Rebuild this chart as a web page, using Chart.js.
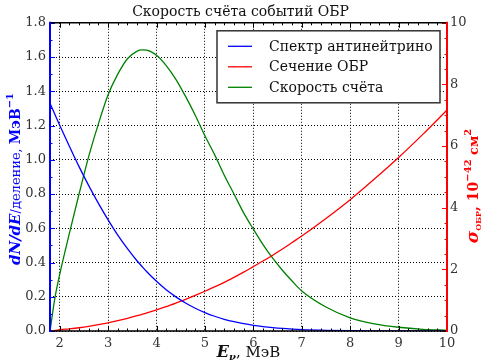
<!DOCTYPE html>
<html>
<head>
<meta charset="utf-8">
<script src="https://cdn.jsdelivr.net/npm/chart.js@4.4.1/dist/chart.umd.min.js"></script>
<style>
  html, body { margin: 0; padding: 0; background: #fff; }
  #wrap { width: 481px; height: 361px; }
</style>
</head>
<body>
<div id="wrap"><canvas id="c" width="481" height="361"></canvas></div>
<script>
// энергия нейтрино, МэВ
const energy = [1.8, 1.9, 2.0, 2.2, 2.4, 2.6, 2.8, 3.0, 3.2, 3.4, 3.6, 3.7, 3.8, 4.0, 4.2, 4.4, 4.6, 4.8,
  5.0, 5.2, 5.4, 5.6, 5.8, 6.0, 6.2, 6.4, 6.6, 6.8, 7.0, 7.5, 8.0, 8.5, 9.0, 9.5, 10.0];
// спектр антинейтрино, dN/dE
const spectrum = [1.33, 1.266, 1.202, 1.079, 0.960, 0.849, 0.745, 0.649, 0.560, 0.481, 0.409, 0.377, 0.346, 0.290, 0.241, 0.1995, 0.1636, 0.1331,
  0.1076, 0.0862, 0.0686, 0.0542, 0.0425, 0.033, 0.0256, 0.0196, 0.0149, 0.0113, 0.0084, 0.0042, 0.002, 0.0009, 0.0004, 0.0002, 0.0001];
// сечение ОБР, 1e-42 см2
const crossSection = [0.0, 0.015, 0.04, 0.07, 0.105, 0.15, 0.205, 0.265, 0.335, 0.41, 0.495, 0.54, 0.585, 0.685, 0.79, 0.905, 1.025, 1.155,
  1.29, 1.43, 1.58, 1.74, 1.91, 2.09, 2.27, 2.46, 2.66, 2.87, 3.08, 3.65, 4.26, 4.93, 5.63, 6.38, 7.17];
// скорость счёта
const countRate = [0.0, 0.19, 0.33, 0.57, 0.80, 1.02, 1.21, 1.38, 1.50, 1.59, 1.635, 1.642, 1.64, 1.61, 1.55, 1.47, 1.37, 1.26,
  1.14, 1.03, 0.91, 0.80, 0.69, 0.595, 0.505, 0.425, 0.355, 0.292, 0.234, 0.14, 0.077, 0.042, 0.022, 0.010, 0.004];

const xTickValues = [2, 3, 4, 5, 6, 7, 8, 9, 10];
const leftTickValues = [0, 0.2, 0.4, 0.6, 0.8, 1.0, 1.2, 1.4, 1.6, 1.8];
const rightTickValues = [0, 2, 4, 6, 8, 10];
const seriesLabels = ["Спектр антинейтрино", "Сечение ОБР", "Скорость счёта"];

var SERIF = "'DejaVu Serif', 'Liberation Serif', serif";
var BLUE = "#0000ff", RED = "#ff0000", GREEN = "#008000";

function pts(ys) { return energy.map(function (e, i) { return { x: e, y: ys[i] }; }); }
function fixTicks(vals) { return function (s) { s.ticks = vals.map(function (v) { return { value: v }; }); }; }

// текст из кусков разного шрифта (для подписей осей)
function drawRuns(ctx, runs, cx, cy, rot) {
  ctx.save();
  ctx.translate(cx, cy);
  ctx.rotate(rot);
  var w = 0;
  runs.forEach(function (r) { ctx.font = r.font; r.w = ctx.measureText(r.text).width; w += r.w; });
  var x = -w / 2;
  ctx.textBaseline = "alphabetic";
  ctx.textAlign = "left";
  runs.forEach(function (r) {
    ctx.font = r.font;
    ctx.fillStyle = r.color;
    ctx.fillText(r.text, x, r.dy || 0);
    x += r.w;
  });
  ctx.restore();
}

var decor = {
  id: "decor",
  afterDatasetsDraw: function (chart) {
    var ctx = chart.ctx, a = chart.chartArea;
    var sx = chart.scales.x, sl = chart.scales.y, sr = chart.scales.y2;
    ctx.save();
    // засечки внутрь
    function tick(color, x1, y1, x2, y2) {
      ctx.strokeStyle = color; ctx.lineWidth = 1;
      ctx.beginPath(); ctx.moveTo(x1, y1); ctx.lineTo(x2, y2); ctx.stroke();
    }
    var v, p, big;
    for (v = 1.8; v <= 10.001; v += 0.2) {
      p = Math.round(sx.getPixelForValue(v)) + 0.5;
      big = Math.abs(v - Math.round(v)) < 0.01;
      var L = big ? 5 : 2.5;
      tick("#000", p, a.bottom, p, a.bottom - L);
      tick("#000", p, a.top, p, a.top + L);
    }
    for (v = 0; v <= 1.801; v += 0.1) {
      p = Math.round(sl.getPixelForValue(v)) + 0.5;
      big = Math.abs(v * 5 - Math.round(v * 5)) < 0.01;
      tick(BLUE, a.left, p, a.left + (big ? 5 : 2.5), p);
    }
    for (v = 0; v <= 10.001; v += 0.5) {
      p = Math.round(sr.getPixelForValue(v)) + 0.5;
      big = Math.abs(v / 2 - Math.round(v / 2)) < 0.01;
      tick(RED, a.right, p, a.right - (big ? 5 : 2.5), p);
    }
    // рамка
    ctx.lineWidth = 1.5;
    ctx.strokeStyle = "#000";
    ctx.beginPath(); ctx.moveTo(a.left, a.top); ctx.lineTo(a.right, a.top);
    ctx.moveTo(a.left, a.bottom); ctx.lineTo(a.right, a.bottom); ctx.stroke();
    ctx.lineWidth = 2;
    ctx.strokeStyle = BLUE;
    ctx.beginPath(); ctx.moveTo(a.left, a.top - 1); ctx.lineTo(a.left, a.bottom + 1); ctx.stroke();
    ctx.strokeStyle = RED;
    ctx.beginPath(); ctx.moveTo(a.right, a.top - 1); ctx.lineTo(a.right, a.bottom + 1); ctx.stroke();

    // легенда
    var lx = a.right - 230, ly = a.top + 8, lw = 223, lh = 72;
    ctx.fillStyle = "#fff";
    ctx.fillRect(lx, ly, lw, lh);
    ctx.lineWidth = 1.5; ctx.strokeStyle = "#333";
    ctx.strokeRect(lx, ly, lw, lh);
    ctx.font = "14px " + SERIF;
    ctx.textBaseline = "middle";
    chart.data.datasets.forEach(function (ds, i) {
      var y = ly + 15.5 + i * 20.5;
      ctx.strokeStyle = ds.borderColor; ctx.lineWidth = 1.3;
      ctx.beginPath(); ctx.moveTo(lx + 11, y); ctx.lineTo(lx + 35, y); ctx.stroke();
      ctx.fillStyle = "#111";
      ctx.fillText(ds.label, lx + 52, y + 1);
    });

    // подписи осей
    var bi = "italic bold ", b = "bold ";
    drawRuns(ctx, [
      { text: "dN/dE", font: bi + "15px " + SERIF, color: BLUE },
      { text: "/деление, ", font: "13px " + SERIF, color: BLUE },
      { text: "МэВ", font: b + "14px " + SERIF, color: BLUE },
      { text: "−1", font: b + "10px " + SERIF, color: BLUE, dy: -7 }
    ], 20, 179, -Math.PI / 2);
    drawRuns(ctx, [
      { text: "σ", font: bi + "17px " + SERIF, color: RED },
      { text: "ОБР", font: b + "8px " + SERIF, color: RED, dy: 3 },
      { text: ", 10", font: b + "14px " + SERIF, color: RED },
      { text: "−42", font: b + "10px " + SERIF, color: RED, dy: -7 },
      { text: " см", font: b + "13px " + SERIF, color: RED },
      { text: "2", font: b + "10px " + SERIF, color: RED, dy: -7 }
    ], 478, 186, -Math.PI / 2);
    drawRuns(ctx, [
      { text: "E", font: bi + "16px " + SERIF, color: "#111" },
      { text: "ν", font: bi + "10px " + SERIF, color: "#111", dy: 3 },
      { text: ", МэВ", font: "15px " + SERIF, color: "#111" }
    ], (a.left + a.right) / 2, 357, 0);
    ctx.restore();
  }
};

new Chart(document.getElementById("c"), {
  type: "line",
  data: {
    datasets: [
      { label: seriesLabels[0], data: pts(spectrum), borderColor: BLUE, yAxisID: "y" },
      { label: seriesLabels[1], data: pts(crossSection), borderColor: RED, yAxisID: "y2" },
      { label: seriesLabels[2], data: pts(countRate), borderColor: GREEN, yAxisID: "y" }
    ]
  },
  options: {
    responsive: false,
    animation: false,
    devicePixelRatio: 1,
    layout: { padding: 0 },
    elements: {
      point: { radius: 0 },
      line: { borderWidth: 1.3, tension: 0.4, cubicInterpolationMode: "monotone", fill: false }
    },
    plugins: {
      legend: { display: false },
      tooltip: { enabled: false },
      title: {
        display: true, text: "Скорость счёта событий ОБР", color: "#111",
        font: { family: SERIF, size: 14, weight: "normal", lineHeight: 1.2 },
        padding: { top: 4, bottom: 2 }
      }
    },
    scales: {
      x: {
        type: "linear", min: 1.8, max: 10,
        afterBuildTicks: fixTicks(xTickValues),
        afterFit: function (s) { s.height = 30; },
        grid: { color: "#000", lineWidth: 1, drawTicks: false },
        border: { display: false, dash: [1, 2] },
        ticks: { color: "#333", padding: 5, font: { family: SERIF, size: 13 }, maxRotation: 0 }
      },
      y: {
        position: "left", min: 0, max: 1.8,
        afterBuildTicks: fixTicks(leftTickValues),
        afterFit: function (s) { s.width = 50; },
        grid: { color: "#000", lineWidth: 1, drawTicks: false },
        border: { display: false, dash: [1, 2] },
        ticks: { color: "#333", padding: 4, font: { family: SERIF, size: 13 },
          callback: function (v) { return v.toFixed(1); } }
      },
      y2: {
        position: "right", min: 0, max: 10,
        afterBuildTicks: fixTicks(rightTickValues),
        afterFit: function (s) { s.width = 34; },
        grid: { display: false, drawTicks: false },
        border: { display: false },
        ticks: { color: "#333", padding: 3, font: { family: SERIF, size: 13 } }
      }
    }
  },
  plugins: [decor]
});
</script>
</body>
</html>
